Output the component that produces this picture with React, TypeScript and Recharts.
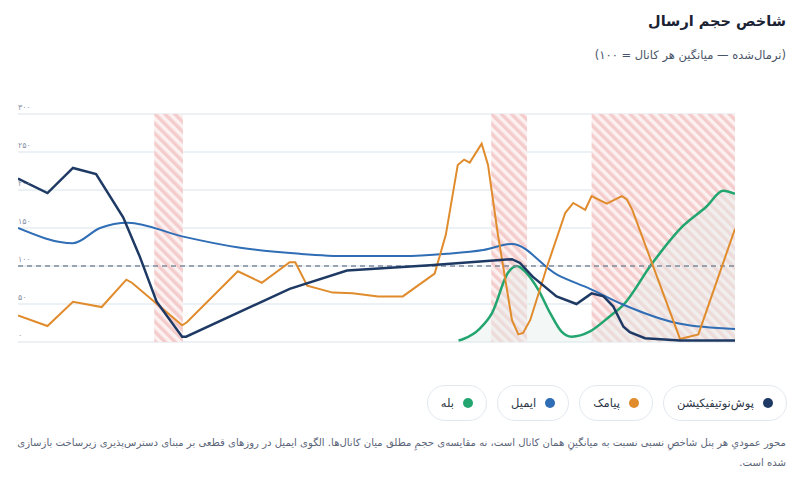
import React from "react";
import {
  ComposedChart, Line, Area, CartesianGrid, XAxis, YAxis, ReferenceLine, ReferenceArea,
} from "recharts";

// روز (d) و مقدار شاخص (v)
const pushData = [
  { d: 0, v: 215 }, { d: 3.7, v: 196 }, { d: 6.9, v: 229 }, { d: 9.8, v: 221 },
  { d: 13.2, v: 164 }, { d: 15.3, v: 112 }, { d: 17.4, v: 53 }, { d: 20.6, v: 7 },
  { d: 21.1, v: 7 }, { d: 34.1, v: 70 }, { d: 41.3, v: 94 }, { d: 51.7, v: 101 },
  { d: 58, v: 106 }, { d: 62, v: 109 }, { d: 63, v: 104 }, { d: 64.6, v: 86 },
  { d: 67.6, v: 60 }, { d: 70.1, v: 50 }, { d: 72, v: 64 }, { d: 73.5, v: 60 },
  { d: 74.7, v: 47 }, { d: 76, v: 20 }, { d: 76.8, v: 13 }, { d: 78.7, v: 5 },
  { d: 83.1, v: 2 }, { d: 90, v: 2 },
];

const emailData = [
  { d: 0, v: 150 }, { d: 6.9, v: 130 }, { d: 10.3, v: 150 }, { d: 13.8, v: 157 },
  { d: 20.6, v: 139 }, { d: 27.9, v: 124 }, { d: 35.4, v: 116 }, { d: 41.3, v: 113 },
  { d: 48.3, v: 113 }, { d: 53.8, v: 116 }, { d: 58.4, v: 121 }, { d: 62, v: 129 },
  { d: 67.6, v: 89 }, { d: 71.8, v: 70 }, { d: 76, v: 49 }, { d: 83.1, v: 24 },
  { d: 90, v: 17 },
];

const smsData = [
  { d: 0, v: 35 }, { d: 3.7, v: 21 }, { d: 6.9, v: 53 }, { d: 10.5, v: 46 },
  { d: 13.6, v: 82 }, { d: 14.3, v: 78 }, { d: 20.6, v: 22 }, { d: 21.2, v: 26 },
  { d: 27.6, v: 93 }, { d: 30.6, v: 78 }, { d: 34.1, v: 105 }, { d: 34.8, v: 105 },
  { d: 36.3, v: 74 }, { d: 39.5, v: 65 }, { d: 42, v: 64 }, { d: 45.2, v: 60 },
  { d: 48.3, v: 60 }, { d: 52.3, v: 90 }, { d: 53.7, v: 141 }, { d: 55.2, v: 233 },
  { d: 56, v: 240 }, { d: 56.7, v: 236 }, { d: 58.2, v: 261 }, { d: 59, v: 233 },
  { d: 60.2, v: 144 }, { d: 62, v: 29 }, { d: 62.8, v: 10 }, { d: 63.4, v: 12 },
  { d: 64.3, v: 29 }, { d: 66.4, v: 99 }, { d: 68.7, v: 170 }, { d: 69.7, v: 183 },
  { d: 71.2, v: 174 }, { d: 72, v: 192 }, { d: 73.9, v: 182 }, { d: 75.8, v: 192 },
  { d: 76.4, v: 188 }, { d: 77.1, v: 174 }, { d: 83.1, v: 4 }, { d: 85.4, v: 10 },
  { d: 90, v: 149 },
];

const baleData = [
  { d: 55.3, v: 2 }, { d: 55.9, v: 4 }, { d: 58, v: 18 }, { d: 59.5, v: 38 },
  { d: 61.5, v: 91 }, { d: 62.6, v: 100 }, { d: 63.8, v: 91 }, { d: 65.3, v: 69 },
  { d: 66.8, v: 38 }, { d: 68.2, v: 14 }, { d: 69.5, v: 7 }, { d: 71.8, v: 14 },
  { d: 74.3, v: 34 }, { d: 76, v: 49 }, { d: 79.5, v: 102 }, { d: 83.5, v: 153 },
  { d: 86.4, v: 178 }, { d: 88.5, v: 199 }, { d: 90, v: 195 },
];

// بازه‌های قطعی
const outages = [
  [17.1, 20.7],
  [59.4, 63.9],
  [72, 90],
];

const yTicks = [0, 50, 100, 150, 200, 250, 300];

const legendItems = [
  { label: "پوش‌نوتیفیکیشن", color: "#1e3a64" },
  { label: "پیامک", color: "#e08b2c" },
  { label: "ایمیل", color: "#2f6db5" },
  { label: "بله", color: "#22a56f" },
];

const FONT = "'DejaVu Sans', sans-serif";

const toFa = (n: number) => String(n).replace(/\d/g, (c) => "۰۱۲۳۴۵۶۷۸۹"[+c]);

const renderYTick = (props: any) => (
  <text key={props.index} x={18} y={props.y - 4} fill="#8a94a6" fontSize={8} fontFamily={FONT} textAnchor="start" direction="ltr">
    {toFa(props.payload.value)}
  </text>
);

const App = () => (
  <div style={{ position: "absolute", left: 0, top: 0, width: 802, height: 478, background: "#fff", fontFamily: FONT, overflow: "hidden" }}>
    <svg width={0} height={0} style={{ position: "absolute" }}>
      <defs>
        <pattern id="hatch" width={7} height={7} patternUnits="userSpaceOnUse" patternTransform="rotate(-45)">
          <rect width={7} height={7} fill="#fcf1f1" />
          <rect width={3.5} height={7} fill="#f5cccc" />
        </pattern>
      </defs>
    </svg>

    <div style={{ position: "absolute", top: 13, right: 16, direction: "rtl", fontSize: 14.5, fontWeight: 700, color: "#1a2233" }}>
      شاخص حجم ارسال
    </div>
    <div style={{ position: "absolute", top: 48, right: 16, direction: "rtl", fontSize: 11.5, color: "#4a5568" }}>
      (نرمال‌شده — میانگین هر کانال = ۱۰۰)
    </div>

    <div style={{ position: "absolute", left: 0, top: 100, direction: "ltr" }}>
      <ComposedChart width={802} height={247} margin={{ top: 14, right: 67, left: 18, bottom: 5 }}>
        <CartesianGrid vertical={false} stroke="#e6ecf2" strokeWidth={1.5} />
        <XAxis type="number" dataKey="d" domain={[0, 90]} hide allowDataOverflow />
        <YAxis type="number" domain={[0, 300]} ticks={yTicks} mirror width={40} axisLine={false} tickLine={false} tick={renderYTick} interval={0} />
        {outages.map(([a, b]) => (
          <ReferenceArea key={a} x1={a} x2={b} y1={0} y2={300} fill="url(#hatch)" fillOpacity={1} stroke="none" />
        ))}
        <ReferenceLine y={100} stroke="#7d8a9c" strokeDasharray="5 4" strokeWidth={1.5} />
        <Area data={baleData} dataKey="v" type="monotone" stroke="#22a56f" strokeWidth={2.5} fill="#e4eeea" fillOpacity={0.45} isAnimationActive={false} dot={false} activeDot={false} />
        <Line data={emailData} dataKey="v" type="monotone" stroke="#2f6db5" strokeWidth={2} dot={false} isAnimationActive={false} />
        <Line data={smsData} dataKey="v" type="linear" stroke="#e08b2c" strokeWidth={2} dot={false} isAnimationActive={false} />
        <Line data={pushData} dataKey="v" type="linear" stroke="#1e3a64" strokeWidth={2.5} dot={false} isAnimationActive={false} />
      </ComposedChart>
    </div>

    <div style={{ position: "absolute", top: 385, right: 15, direction: "rtl", display: "flex", gap: 10 }}>
      {legendItems.map((it) => (
        <div key={it.label} style={{ height: 34, padding: "0 13px", border: "1px solid #e3e8ef", borderRadius: 18, display: "flex", alignItems: "center", gap: 9, fontSize: 11.5, color: "#2d3748" }}>
          <span style={{ width: 10, height: 10, borderRadius: 5, background: it.color, display: "inline-block" }} />
          <span>{it.label}</span>
        </div>
      ))}
    </div>

    <div style={{ position: "absolute", top: 433, right: 16, left: 12, direction: "rtl", textAlign: "right", fontSize: 10.1, lineHeight: "20px", color: "#5a6478" }}>
      محور عمودیِ هر پنل شاخصِ نسبی نسبت به میانگینِ همان کانال است، نه مقایسه‌ی حجمِ مطلق میان کانال‌ها. الگوی ایمیل در روزهای قطعی بر مبنای دسترس‌پذیری زیرساخت بازسازی شده است.
    </div>
  </div>
);

export default App;
